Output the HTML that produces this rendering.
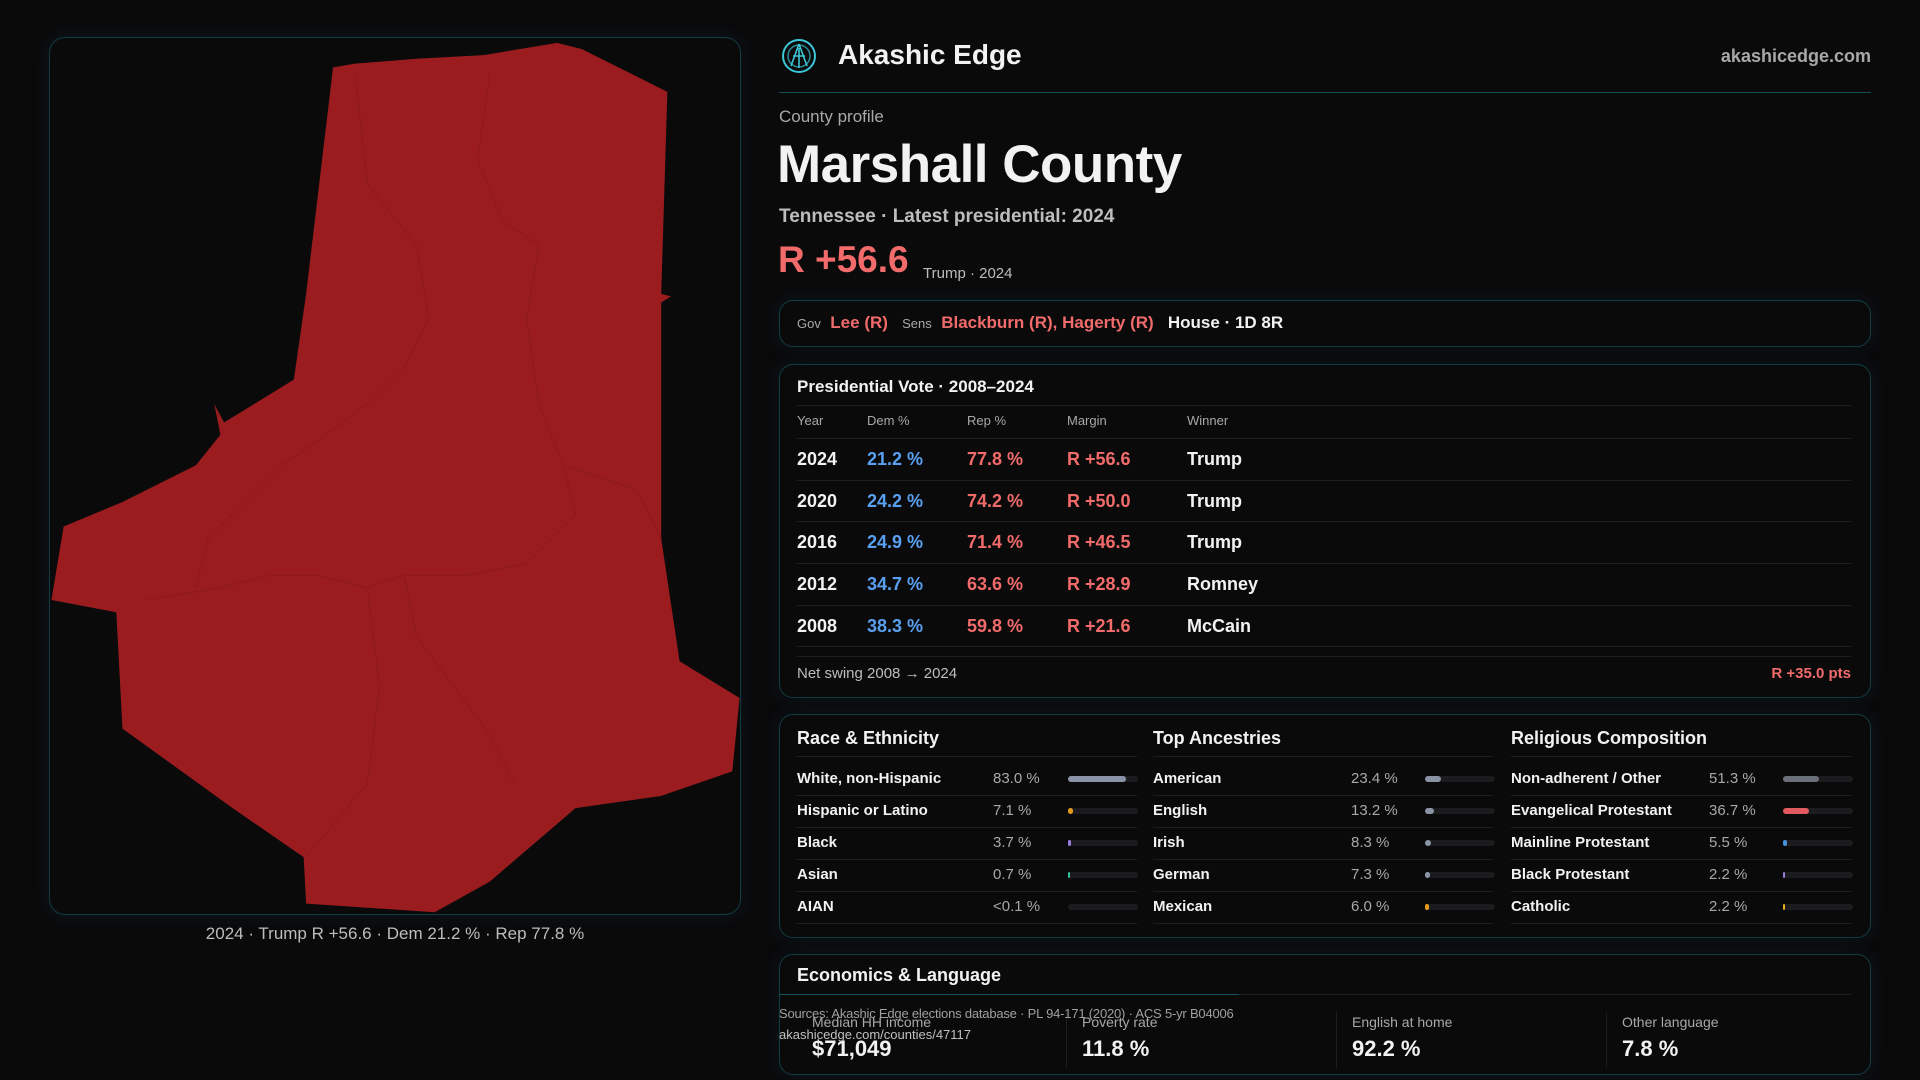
<!DOCTYPE html>
<html><head><meta charset="utf-8"><style>
*{margin:0;padding:0;box-sizing:border-box}
body{width:1920px;height:1080px;background:#0a0a0b;color:#f2f2f2;font-family:"Liberation Sans",sans-serif;position:relative;overflow:hidden}
.a{position:absolute;white-space:nowrap}
.box{position:absolute;border:1px solid #123c44;border-radius:14px;background:#0a0a0b;box-shadow:0 0 18px rgba(20,60,70,.25)}
.r{color:#f26b6b}.b{color:#5aa0f0}.g{color:#a8a8a8}
.line{position:absolute;height:1px;background:#1e1e20}
.bar{position:absolute;height:6px;border-radius:3px;background:#1c1c1f;width:70px}
.bar i{position:absolute;left:0;top:0;height:6px;border-radius:3px}
</style></head><body>
<div class="box" style="left:49px;top:37px;width:692px;height:878px;border-radius:16px"></div>
<svg class="a" style="left:0;top:0" width="1920" height="1080" viewBox="0 0 1568 882">
<path d="M272,55 L290,52 L340,48 L395,45 L455,35 L475,40 L545,75 L540,240 L548,242 L540,247 L540,440 L555,540 L604,570 L598,630 L540,650 L470,660 L400,720 L355,745 L250,738 L248,700 L190,660 L100,595 L95,500 L42,490 L52,430 L100,410 L160,380 L180,355 L175,330 L183,345 L240,310 L250,240 Z" fill="#9b1c1f"/>
<g fill="none" stroke="#8e1a1d" stroke-width="1">
<path d="M290,60 L300,150 L340,200 L350,260 L330,300 L300,330 L260,360 L230,380 L200,410 L170,440 L160,480"/>
<path d="M400,60 L390,130 L410,180 L440,200 L430,260 L440,330 L460,380 L470,420 L430,460 L380,470 L330,470 L300,480 L260,470 L220,470 L180,480 L120,490"/>
<path d="M330,470 L340,520 L370,560 L400,600 L420,640"/>
<path d="M460,380 L520,400 L540,440"/>
<path d="M300,480 L310,560 L300,640 L250,700"/>
</g>
</svg>
<div class="a g" style="left:0;width:790px;top:924px;text-align:center;font-size:17px;color:#bdbdbd">2024 · Trump R +56.6 · Dem 21.2 % · Rep 77.8 %</div>

<svg class="a" style="left:781px;top:38px" width="36" height="36" viewBox="0 0 36 36"><circle cx="18" cy="18" r="16" fill="none" stroke="#3cc6d6" stroke-width="2"/><circle cx="18" cy="18" r="11" fill="none" stroke="#2a8e9a" stroke-width="1.5"/><path d="M18 6 L10 28 M18 6 L26 28 M12 18 L24 18 M18 10 L18 30" stroke="#3cc6d6" stroke-width="1.6" fill="none"/></svg>
<div class="a" style="left:838px;top:39px;font-size:28px;font-weight:bold">Akashic Edge</div>
<div class="a g" style="right:49px;top:46px;font-size:18px;font-weight:bold">akashicedge.com</div>
<div class="a" style="left:779px;top:92px;width:1092px;height:1px;background:#16525a"></div>
<div class="a g" style="left:779px;top:107px;font-size:17px">County profile</div>
<div class="a" style="left:777px;top:134px;font-size:53px;font-weight:bold;letter-spacing:-0.5px">Marshall County</div>
<div class="a" style="left:779px;top:206px;font-size:19px;font-weight:bold;color:#bdbdbd">Tennessee · Latest presidential: 2024</div>
<div class="a r" style="left:778px;top:239px;font-size:37px;font-weight:bold">R +56.6</div>
<div class="a" style="left:923px;top:265px;font-size:15px;color:#bdbdbd">Trump · 2024</div>

<div class="box" style="left:779px;top:300px;width:1092px;height:47px"></div>
<div class="a" style="left:797px;top:313px;font-size:17px"><span class="g" style="font-size:13px">Gov</span>&nbsp; <span class="r" style="font-weight:bold">Lee (R)</span>&nbsp;&nbsp; <span class="g" style="font-size:13px">Sens</span>&nbsp; <span class="r" style="font-weight:bold">Blackburn (R), Hagerty (R)</span>&nbsp;&nbsp; <b>House · 1D 8R</b></div>

<div class="box" style="left:779px;top:364px;width:1092px;height:334px"></div>
<div class="a" style="left:797px;top:377px;font-size:17px;font-weight:bold">Presidential Vote · 2008–2024</div>
<div class="line" style="left:797px;top:405px;width:1054px"></div>
<div class="a g" style="left:797px;top:413px;font-size:13px">Year</div>
<div class="a g" style="left:867px;top:413px;font-size:13px">Dem %</div>
<div class="a g" style="left:967px;top:413px;font-size:13px">Rep %</div>
<div class="a g" style="left:1067px;top:413px;font-size:13px">Margin</div>
<div class="a g" style="left:1187px;top:413px;font-size:13px">Winner</div>
<div style="position:absolute;left:797px;top:438px;width:1054px;font-size:18px;font-weight:bold">
<div style="position:relative;height:42px;border-top:1px solid #1e1e20"><span class="a" style="left:0;top:10px">2024</span><span class="a b" style="left:70px;top:10px">21.2 %</span><span class="a r" style="left:170px;top:10px">77.8 %</span><span class="a r" style="left:270px;top:10px">R +56.6</span><span class="a" style="left:390px;top:10px">Trump</span></div>
<div style="position:relative;height:41px;border-top:1px solid #1e1e20"><span class="a" style="left:0;top:10px">2020</span><span class="a b" style="left:70px;top:10px">24.2 %</span><span class="a r" style="left:170px;top:10px">74.2 %</span><span class="a r" style="left:270px;top:10px">R +50.0</span><span class="a" style="left:390px;top:10px">Trump</span></div>
<div style="position:relative;height:42px;border-top:1px solid #1e1e20"><span class="a" style="left:0;top:10px">2016</span><span class="a b" style="left:70px;top:10px">24.9 %</span><span class="a r" style="left:170px;top:10px">71.4 %</span><span class="a r" style="left:270px;top:10px">R +46.5</span><span class="a" style="left:390px;top:10px">Trump</span></div>
<div style="position:relative;height:42px;border-top:1px solid #1e1e20"><span class="a" style="left:0;top:10px">2012</span><span class="a b" style="left:70px;top:10px">34.7 %</span><span class="a r" style="left:170px;top:10px">63.6 %</span><span class="a r" style="left:270px;top:10px">R +28.9</span><span class="a" style="left:390px;top:10px">Romney</span></div>
<div style="position:relative;height:42px;border-top:1px solid #1e1e20;border-bottom:1px solid #1e1e20"><span class="a" style="left:0;top:10px">2008</span><span class="a b" style="left:70px;top:10px">38.3 %</span><span class="a r" style="left:170px;top:10px">59.8 %</span><span class="a r" style="left:270px;top:10px">R +21.6</span><span class="a" style="left:390px;top:10px">McCain</span></div>
</div>
<div class="line" style="left:797px;top:656px;width:1054px"></div>
<div class="a" style="left:797px;top:665px;font-size:15px;color:#bdbdbd">Net swing 2008 → 2024</div>
<div class="a r" style="right:69px;top:665px;font-size:15px;font-weight:bold">R +35.0 pts</div>

<div class="box" style="left:779px;top:714px;width:1092px;height:224px"></div>
<div class="a" style="left:797px;top:728px;font-size:18px;font-weight:bold">Race &amp; Ethnicity</div>
<div class="a" style="left:1153px;top:728px;font-size:18px;font-weight:bold">Top Ancestries</div>
<div class="a" style="left:1511px;top:728px;font-size:18px;font-weight:bold">Religious Composition</div>

<div class="box" style="left:779px;top:954px;width:1092px;height:121px"></div>
<div class="a" style="left:797px;top:965px;font-size:18px;font-weight:bold">Economics &amp; Language</div>
<div class="line" style="left:797px;top:994px;width:1054px"></div>
<div class="a" style="left:779px;top:994px;width:460px;height:1px;background:#16525a"></div>
<div class="a g" style="left:812px;top:1014px;font-size:14px">Median HH income</div>
<div class="a" style="left:812px;top:1036px;font-size:22px;font-weight:bold">$71,049</div>
<div class="a g" style="left:1082px;top:1014px;font-size:14px">Poverty rate</div>
<div class="a" style="left:1082px;top:1036px;font-size:22px;font-weight:bold">11.8 %</div>
<div class="a g" style="left:1352px;top:1014px;font-size:14px">English at home</div>
<div class="a" style="left:1352px;top:1036px;font-size:22px;font-weight:bold">92.2 %</div>
<div class="a g" style="left:1622px;top:1014px;font-size:14px">Other language</div>
<div class="a" style="left:1622px;top:1036px;font-size:22px;font-weight:bold">7.8 %</div>
<div class="a" style="left:1066px;top:1012px;width:1px;height:56px;background:#1e1e20"></div>
<div class="a" style="left:1336px;top:1012px;width:1px;height:56px;background:#1e1e20"></div>
<div class="a" style="left:1606px;top:1012px;width:1px;height:56px;background:#1e1e20"></div>
<div class="a" style="left:779px;top:1006px;font-size:13px;color:#a0a0a0;letter-spacing:-0.2px">Sources: Akashic Edge elections database · PL 94-171 (2020) · ACS 5-yr B04006</div>
<div class="a" style="left:779px;top:1027px;font-size:13px;color:#c0c0c0">akashicedge.com/counties/47117</div>

<div style="position:absolute;left:0;top:0;font-size:15px;font-weight:bold">
<div class="line" style="left:797px;top:756px;width:340px"></div><div class="line" style="left:1153px;top:756px;width:340px"></div><div class="line" style="left:1511px;top:756px;width:340px"></div>
<div class="line" style="left:797px;top:795px;width:340px"></div><div class="line" style="left:1153px;top:795px;width:340px"></div><div class="line" style="left:1511px;top:795px;width:340px"></div>
<div class="line" style="left:797px;top:827px;width:340px"></div><div class="line" style="left:1153px;top:827px;width:340px"></div><div class="line" style="left:1511px;top:827px;width:340px"></div>
<div class="line" style="left:797px;top:859px;width:340px"></div><div class="line" style="left:1153px;top:859px;width:340px"></div><div class="line" style="left:1511px;top:859px;width:340px"></div>
<div class="line" style="left:797px;top:891px;width:340px"></div><div class="line" style="left:1153px;top:891px;width:340px"></div><div class="line" style="left:1511px;top:891px;width:340px"></div>
<div class="line" style="left:797px;top:923px;width:340px"></div><div class="line" style="left:1153px;top:923px;width:340px"></div><div class="line" style="left:1511px;top:923px;width:340px"></div>

<span class="a" style="left:797px;top:770px">White, non-Hispanic</span><span class="a g" style="left:993px;top:770px;font-weight:normal">83.0 %</span><div class="bar" style="left:1068px;top:776px"><i style="width:58px;background:#8a94a6"></i></div>
<span class="a" style="left:797px;top:802px">Hispanic or Latino</span><span class="a g" style="left:993px;top:802px;font-weight:normal">7.1 %</span><div class="bar" style="left:1068px;top:808px"><i style="width:5px;background:#e09a1a"></i></div>
<span class="a" style="left:797px;top:834px">Black</span><span class="a g" style="left:993px;top:834px;font-weight:normal">3.7 %</span><div class="bar" style="left:1068px;top:840px"><i style="width:3px;background:#9a7ae0"></i></div>
<span class="a" style="left:797px;top:866px">Asian</span><span class="a g" style="left:993px;top:866px;font-weight:normal">0.7 %</span><div class="bar" style="left:1068px;top:872px"><i style="width:2px;background:#2ec49a"></i></div>
<span class="a" style="left:797px;top:898px">AIAN</span><span class="a g" style="left:993px;top:898px;font-weight:normal">&lt;0.1 %</span><div class="bar" style="left:1068px;top:904px"></div>

<span class="a" style="left:1153px;top:770px">American</span><span class="a g" style="left:1351px;top:770px;font-weight:normal">23.4 %</span><div class="bar" style="left:1425px;top:776px"><i style="width:16px;background:#8a94a6"></i></div>
<span class="a" style="left:1153px;top:802px">English</span><span class="a g" style="left:1351px;top:802px;font-weight:normal">13.2 %</span><div class="bar" style="left:1425px;top:808px"><i style="width:9px;background:#8a94a6"></i></div>
<span class="a" style="left:1153px;top:834px">Irish</span><span class="a g" style="left:1351px;top:834px;font-weight:normal">8.3 %</span><div class="bar" style="left:1425px;top:840px"><i style="width:6px;background:#8a94a6"></i></div>
<span class="a" style="left:1153px;top:866px">German</span><span class="a g" style="left:1351px;top:866px;font-weight:normal">7.3 %</span><div class="bar" style="left:1425px;top:872px"><i style="width:5px;background:#8a94a6"></i></div>
<span class="a" style="left:1153px;top:898px">Mexican</span><span class="a g" style="left:1351px;top:898px;font-weight:normal">6.0 %</span><div class="bar" style="left:1425px;top:904px"><i style="width:4px;background:#e09a1a"></i></div>

<span class="a" style="left:1511px;top:770px">Non-adherent / Other</span><span class="a g" style="left:1709px;top:770px;font-weight:normal">51.3 %</span><div class="bar" style="left:1783px;top:776px"><i style="width:36px;background:#6a6f7a"></i></div>
<span class="a" style="left:1511px;top:802px">Evangelical Protestant</span><span class="a g" style="left:1709px;top:802px;font-weight:normal">36.7 %</span><div class="bar" style="left:1783px;top:808px"><i style="width:26px;background:#e05a5e"></i></div>
<span class="a" style="left:1511px;top:834px">Mainline Protestant</span><span class="a g" style="left:1709px;top:834px;font-weight:normal">5.5 %</span><div class="bar" style="left:1783px;top:840px"><i style="width:4px;background:#4a90e0"></i></div>
<span class="a" style="left:1511px;top:866px">Black Protestant</span><span class="a g" style="left:1709px;top:866px;font-weight:normal">2.2 %</span><div class="bar" style="left:1783px;top:872px"><i style="width:2px;background:#9a7ae0"></i></div>
<span class="a" style="left:1511px;top:898px">Catholic</span><span class="a g" style="left:1709px;top:898px;font-weight:normal">2.2 %</span><div class="bar" style="left:1783px;top:904px"><i style="width:2px;background:#e0b01a"></i></div>
</div>
</body></html>
